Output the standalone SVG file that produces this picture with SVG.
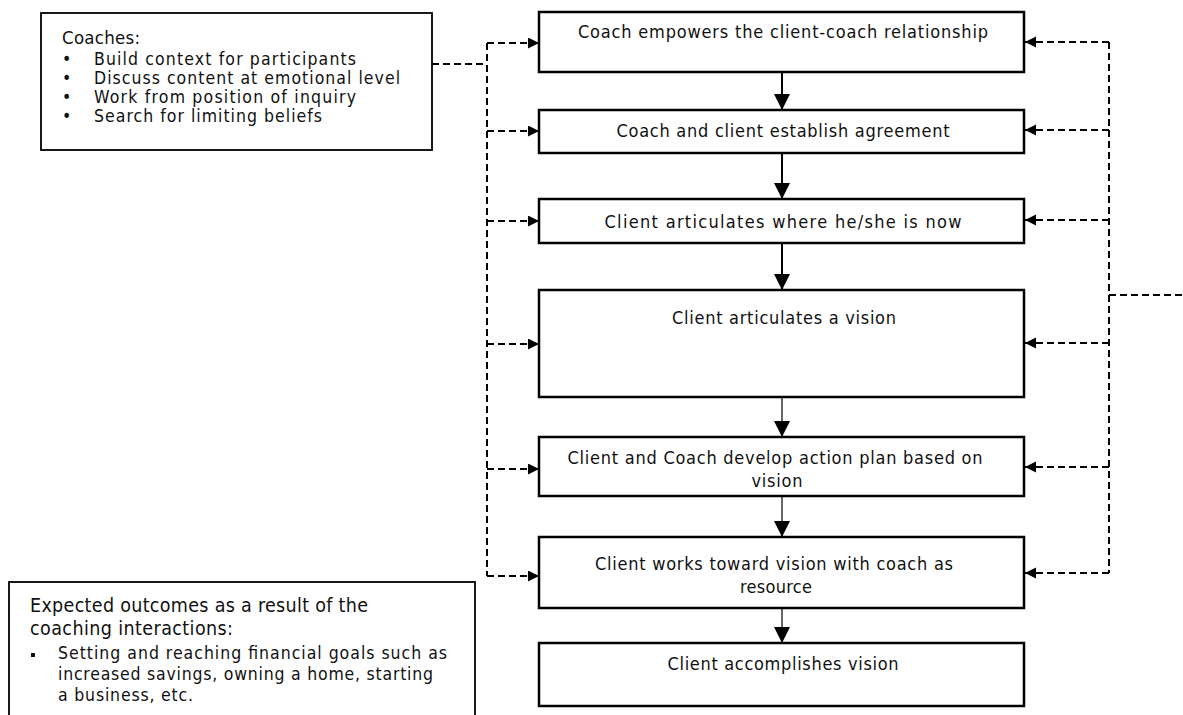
<svg xmlns="http://www.w3.org/2000/svg" width="1183" height="715" viewBox="0 0 1183 715">
<style>
text{font-family:"DejaVu Sans Condensed","DejaVu Sans","Liberation Sans",sans-serif;fill:#111;}
.t{font-size:18px;text-anchor:middle;}
.l{font-size:17.5px;}
.h{font-size:19.5px;}
.box{fill:#fff;stroke:#000;stroke-width:2.5;}
.side{fill:#fff;stroke:#000;stroke-width:1.8;}
.flow{stroke:#000;stroke-width:2;fill:none;}
.flowthin{stroke:#000;stroke-width:1.2;fill:none;}
.dash{stroke:#000;stroke-width:2;stroke-dasharray:7 4;fill:none;}
</style>
<defs>
<marker id="solid" markerUnits="userSpaceOnUse" markerWidth="18" markerHeight="18" refX="16" refY="8" orient="auto">
<path d="M0,0 L16,8 L0,16 Z" fill="#000"/>
</marker>
<marker id="small" markerUnits="userSpaceOnUse" markerWidth="12" markerHeight="12" refX="11" refY="5.5" orient="auto">
<path d="M0,0 L11,5.5 L0,11 Z" fill="#000"/>
</marker>
</defs>

<g id="connectors">
<line class="flow" x1="782" y1="72" x2="782" y2="110" marker-end="url(#solid)"/>
<line class="flow" x1="782" y1="153" x2="782" y2="199" marker-end="url(#solid)"/>
<line class="flow" x1="782" y1="243" x2="782" y2="290" marker-end="url(#solid)"/>
<line class="flowthin" x1="782" y1="397" x2="782" y2="437" marker-end="url(#solid)"/>
<line class="flowthin" x1="782" y1="496" x2="782" y2="537" marker-end="url(#solid)"/>
<line class="flowthin" x1="782" y1="608" x2="782" y2="643" marker-end="url(#solid)"/>
<line class="dash" x1="432" y1="64" x2="487" y2="64"/>
<line class="dash" x1="487" y1="43" x2="487" y2="576"/>
<line class="dash" x1="487" y1="43" x2="539" y2="43" marker-end="url(#small)"/>
<line class="dash" x1="487" y1="131" x2="539" y2="131" marker-end="url(#small)"/>
<line class="dash" x1="487" y1="221" x2="539" y2="221" marker-end="url(#small)"/>
<line class="dash" x1="487" y1="344" x2="539" y2="344" marker-end="url(#small)"/>
<line class="dash" x1="487" y1="469" x2="539" y2="469" marker-end="url(#small)"/>
<line class="dash" x1="487" y1="576" x2="539" y2="576" marker-end="url(#small)"/>
<line class="dash" x1="1109" y1="42" x2="1109" y2="573"/>
<line class="dash" x1="1109" y1="295" x2="1183" y2="295"/>
<line class="dash" x1="1109" y1="42" x2="1025" y2="42" marker-end="url(#small)"/>
<line class="dash" x1="1109" y1="130" x2="1025" y2="130" marker-end="url(#small)"/>
<line class="dash" x1="1109" y1="220" x2="1025" y2="220" marker-end="url(#small)"/>
<line class="dash" x1="1109" y1="343" x2="1025" y2="343" marker-end="url(#small)"/>
<line class="dash" x1="1109" y1="467" x2="1025" y2="467" marker-end="url(#small)"/>
<line class="dash" x1="1109" y1="573" x2="1025" y2="573" marker-end="url(#small)"/>
</g>

<g id="coaches">
<rect class="side" x="41" y="13" width="391" height="137"/>
<text x="62" y="44" font-size="18.5" textLength="78">Coaches:</text>
<text class="l" x="62" y="65">•</text><text class="l" x="94" y="65" textLength="262">Build context for participants</text>
<text class="l" x="62" y="84">•</text><text class="l" x="94" y="84" textLength="306">Discuss content at emotional level</text>
<text class="l" x="62" y="103">•</text><text class="l" x="94" y="103" textLength="262">Work from position of inquiry</text>
<text class="l" x="62" y="122">•</text><text class="l" x="94" y="122" textLength="228">Search for limiting beliefs</text>
</g>

<g id="n1">
<rect class="box" x="539" y="12" width="485" height="60"/>
<text class="t" x="783" y="38" textLength="410">Coach empowers the client-coach relationship</text>
</g>
<g id="n2">
<rect class="box" x="539" y="110" width="485" height="43"/>
<text class="t" x="783" y="137" textLength="333">Coach and client establish agreement</text>
</g>
<g id="n3">
<rect class="box" x="539" y="199" width="485" height="44"/>
<text class="t" x="783" y="228" textLength="357">Client articulates where he/she is now</text>
</g>
<g id="n4">
<rect class="box" x="539" y="290" width="485" height="107"/>
<text class="t" x="784" y="324" textLength="224">Client articulates a vision</text>
</g>
<g id="n5">
<rect class="box" x="539" y="437" width="485" height="59"/>
<text class="t" x="775" y="464" textLength="415">Client and Coach develop action plan based on</text>
<text class="t" x="777" y="487" textLength="51">vision</text>
</g>
<g id="n6">
<rect class="box" x="539" y="537" width="485" height="71"/>
<text class="t" x="774" y="570" textLength="358">Client works toward vision with coach as</text>
<text class="t" x="776" y="593" textLength="72">resource</text>
</g>
<g id="n7">
<rect class="box" x="539" y="643" width="485" height="63"/>
<text class="t" x="783" y="670" textLength="231">Client accomplishes vision</text>
</g>

<g id="outcomes">
<rect class="side" x="9" y="582" width="466" height="140"/>
<text class="h" x="30" y="612" textLength="338">Expected outcomes as a result of the</text>
<text class="h" x="30" y="635" textLength="203">coaching interactions:</text>
<rect x="31" y="653" width="4" height="4" fill="#111"/>
<text class="l" x="58" y="659" textLength="389">Setting and reaching financial goals such as</text>
<text class="l" x="58" y="680" textLength="375">increased savings, owning a home, starting</text>
<text class="l" x="58" y="701" textLength="135">a business, etc.</text>
</g>
</svg>
